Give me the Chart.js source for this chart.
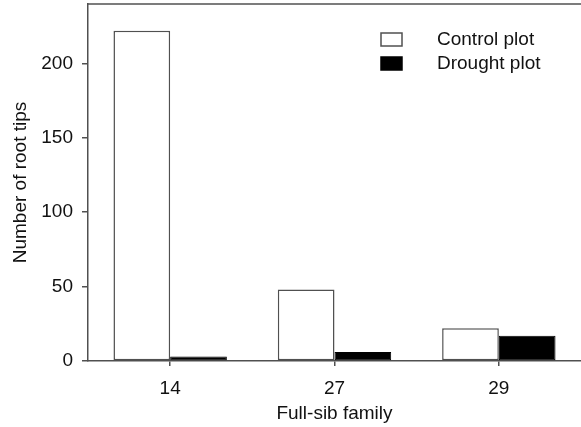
<!DOCTYPE html>
<html>
<head>
<meta charset="utf-8">
<script src="https://cdn.jsdelivr.net/npm/chart.js@4/dist/chart.umd.min.js"></script>
<style>
  html, body { margin: 0; padding: 0; background: #fff; overflow: hidden; }
  #wrap { width: 581px; height: 427px; position: relative; }
</style>
</head>
<body>
<div id="wrap"><canvas id="chart" width="581" height="427"></canvas></div>
<script>
// Date
var families = ['14', '27', '29'];
var controlPlot = [222, 48, 22];
var droughtPlot = [3, 6, 17];
var yTicks = [0, 50, 100, 150, 200];

var FONT = "'Liberation Sans', Arial, sans-serif";
var AXIS = '#505050';
var TEXT = '#111111';

// Legenda desenata in interiorul zonei graficului + linia de sus a cadrului
var framePlugin = {
    id: 'frameLegend',
    afterDraw: function (chart) {
        var ctx = chart.ctx;
        var area = chart.chartArea;
        ctx.save();
        ctx.strokeStyle = AXIS;
        ctx.lineWidth = 1.5;
        ctx.beginPath();
        ctx.moveTo(area.left, area.top);
        ctx.lineTo(area.right, area.top);
        ctx.stroke();

        ctx.font = '19px ' + FONT;
        ctx.textBaseline = 'middle';
        chart.data.datasets.forEach(function (ds, i) {
            var y = 33 + i * 24;
            ctx.fillStyle = ds.backgroundColor;
            ctx.fillRect(381, y, 21, 13);
            ctx.strokeStyle = ds.borderColor;
            ctx.lineWidth = 1.5;
            ctx.strokeRect(381, y, 21, 13);
            ctx.fillStyle = TEXT;
            ctx.fillText(ds.label, 437, y + 6.5);
        });
        ctx.restore();
    }
};

new Chart(document.getElementById('chart'), {
    type: 'bar',
    data: {
        labels: families,
        datasets: [
            {
                label: 'Control plot',
                data: controlPlot,
                backgroundColor: '#ffffff',
                borderColor: AXIS,
                borderWidth: 1.5,
                borderSkipped: false
            },
            {
                label: 'Drought plot',
                data: droughtPlot,
                backgroundColor: '#000000',
                borderColor: '#000000',
                borderWidth: 1,
                borderSkipped: false
            }
        ]
    },
    options: {
        responsive: false,
        animation: false,
        layout: { padding: { left: 0, right: 0, top: 4, bottom: 0 } },
        datasets: { bar: { barPercentage: 1, categoryPercentage: 0.69 } },
        plugins: {
            legend: { display: false },
            tooltip: { enabled: false }
        },
        scales: {
            x: {
                afterFit: function (s) {
                    s.height = 66;
                    s.paddingLeft = 0;
                    s.paddingRight = 0;
                },
                grid: {
                    display: true,
                    drawOnChartArea: false,
                    offset: false,
                    tickLength: 5,
                    color: AXIS,
                    lineWidth: 1.5
                },
                border: { display: true, color: AXIS, width: 1.5 },
                ticks: {
                    color: TEXT,
                    font: { family: FONT, size: 19 },
                    padding: 11,
                    maxRotation: 0
                },
                title: {
                    display: true,
                    text: 'Full-sib family',
                    color: TEXT,
                    font: { family: FONT, size: 19 },
                    padding: { top: 0, bottom: 2 }
                }
            },
            y: {
                min: 0,
                max: 240,
                afterFit: function (s) {
                    s.width = 88;
                    s.paddingTop = 0;
                    s.paddingBottom = 0;
                },
                afterBuildTicks: function (s) {
                    s.ticks = yTicks.map(function (v) { return { value: v }; });
                },
                grid: {
                    display: true,
                    drawOnChartArea: false,
                    tickLength: 6,
                    color: AXIS,
                    lineWidth: 1.5
                },
                border: { display: true, color: AXIS, width: 1.5 },
                ticks: {
                    color: TEXT,
                    font: { family: FONT, size: 19 },
                    padding: 9
                },
                title: {
                    display: true,
                    text: 'Number of root tips',
                    color: TEXT,
                    font: { family: FONT, size: 19 },
                    padding: { top: 9, bottom: 0 }
                }
            }
        }
    },
    plugins: [framePlugin]
});
</script>
</body>
</html>
